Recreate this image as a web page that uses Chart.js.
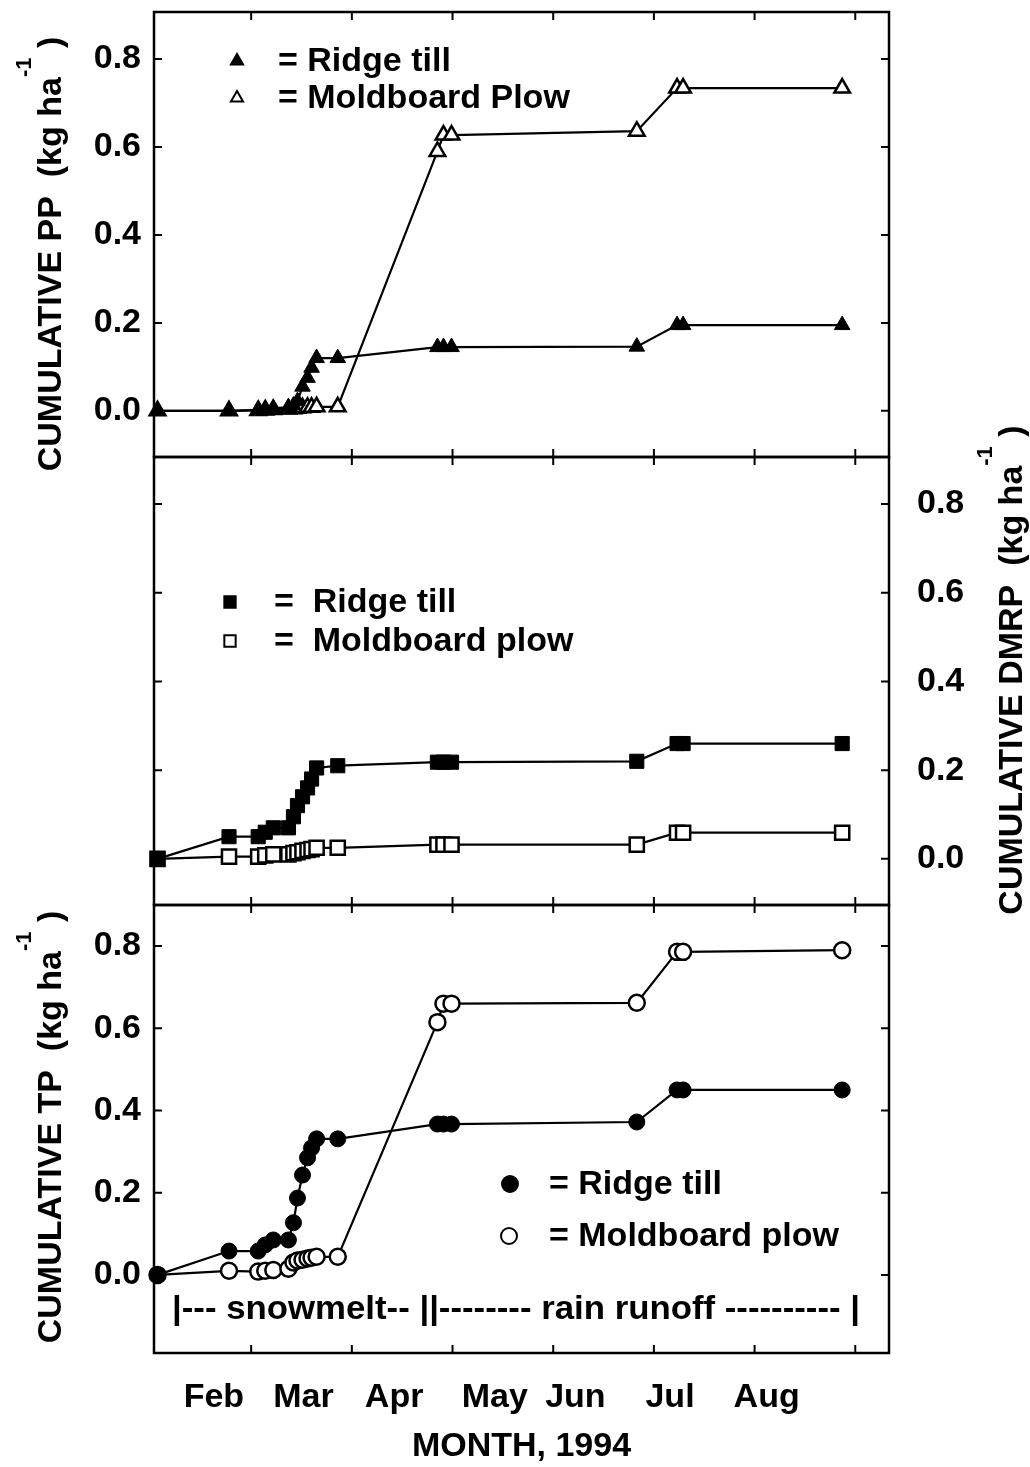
<!DOCTYPE html>
<html><head><meta charset="utf-8">
<script src="https://cdn.jsdelivr.net/npm/chart.js@4.4.1/dist/chart.umd.min.js"></script>
<style>
html,body{margin:0;padding:0;background:#fff;}
#wrap{position:relative;width:1030px;height:1467px;overflow:hidden;}
canvas{position:absolute;left:0;top:0;}
</style></head><body><div id="wrap">
<canvas id="c1" width="1030" height="1467"></canvas>
<canvas id="c2" width="1030" height="1467"></canvas>
<canvas id="c3" width="1030" height="1467"></canvas>
</div>
<script>
// ---- data (x in months of 1994, 2.0 = 1 Feb) ----
const sampleDates = [2.07, 2.78, 3.07, 3.14, 3.22, 3.37, 3.42, 3.46, 3.51, 3.56, 3.60, 3.65, 3.86, 4.85, 4.91, 4.99, 6.83, 7.23, 7.29, 8.87];
const ppRidge     = [0, 0, 0.002, 0.004, 0.006, 0.008, 0.012, 0.022, 0.055, 0.075, 0.098, 0.12, 0.12, 0.145, 0.145, 0.145, 0.146, 0.195, 0.195, 0.195];
const ppMoldboard = [0, 0, 0.001, 0.002, 0.003, 0.004, 0.005, 0.006, 0.007, 0.008, 0.008, 0.009, 0.009, 0.59, 0.627, 0.627, 0.636, 0.734, 0.734, 0.734];
const dmrpRidge     = [0, 0.05, 0.05, 0.06, 0.07, 0.07, 0.095, 0.12, 0.14, 0.16, 0.18, 0.205, 0.21, 0.218, 0.218, 0.218, 0.22, 0.26, 0.26, 0.26];
const dmrpMoldboard = [0, 0.005, 0.005, 0.008, 0.01, 0.01, 0.013, 0.015, 0.018, 0.02, 0.022, 0.025, 0.025, 0.032, 0.032, 0.032, 0.032, 0.059, 0.059, 0.059];
const tpRidge     = [0, 0.058, 0.058, 0.073, 0.085, 0.085, 0.127, 0.187, 0.243, 0.285, 0.309, 0.331, 0.331, 0.367, 0.367, 0.367, 0.372, 0.45, 0.45, 0.45];
const tpMoldboard = [0, 0.01, 0.008, 0.01, 0.012, 0.015, 0.03, 0.035, 0.037, 0.04, 0.042, 0.044, 0.044, 0.615, 0.66, 0.66, 0.662, 0.786, 0.786, 0.79];
const yTickValues = [0, 0.2, 0.4, 0.6, 0.8];
const monthTickValues = [3, 4, 5, 6, 7, 8, 9];
const monthLabels = ['Feb', 'Mar', 'Apr', 'May', 'Jun', 'Jul', 'Aug'];
const monthLabelPos = [2.63, 3.52, 4.42, 5.42, 6.22, 7.16, 8.12];
const seriesNames = ['Ridge till', 'Moldboard Plow', 'Moldboard plow'];
const phaseNote = '|--- snowmelt-- ||-------- rain runoff ---------- |';

// ---- styling ----
const FONT = '"Liberation Sans", Arial, Helvetica, sans-serif';
const FS = 34;
const X_MIN = 2.035, X_MAX = 9.335;

function pts(vals){ return sampleDates.map((d,i)=>({x:d, y:vals[i]})); }

function ds(label, vals, style, filled, radius){
  return {
    label, data: pts(vals),
    borderColor:'#000', borderWidth:2.2, tension:0,
    pointStyle: style, pointRadius: radius, pointHoverRadius: radius,
    pointBackgroundColor: filled ? '#000' : '#fff',
    pointBorderColor:'#000', pointBorderWidth: filled ? 1 : 2.5,
    clip: false
  };
}

function drawTitle(ctx, o){
  ctx.save();
  ctx.translate(o.cx, o.cy);
  ctx.rotate(-Math.PI/2);
  ctx.fillStyle = '#000';
  ctx.textBaseline = 'alphabetic';
  ctx.textAlign = 'left';
  const main = o.text + '  (kg ha';
  ctx.font = 'bold ' + FS + 'px ' + FONT;
  const w1 = ctx.measureText(main).width;
  const w3 = ctx.measureText(' )').width;
  ctx.font = 'bold 22px ' + FONT;
  const w2 = ctx.measureText('-1').width;
  const total = w1 + w2 + w3;
  let x = -total/2;
  const base = o.base;
  ctx.font = 'bold ' + FS + 'px ' + FONT;
  ctx.fillText(main, x, base); x += w1;
  ctx.font = 'bold 22px ' + FONT;
  ctx.fillText('-1', x, base - 30); x += w2;
  ctx.font = 'bold ' + FS + 'px ' + FONT;
  ctx.fillText(' )', x, base);
  ctx.restore();
}

const framePlugin = {
  id: 'frame',
  afterDatasetsDraw(chart, args, opts){
    const {ctx, chartArea:a, scales} = chart;
    const xs = scales.x, ys = scales.y;
    ctx.save();
    ctx.strokeStyle = '#000';
    ctx.lineWidth = 2.5;
    ctx.strokeRect(a.left, a.top, a.right - a.left, a.bottom - a.top);
    ctx.lineWidth = 2;
    const L = 8;
    ctx.beginPath();
    monthTickValues.forEach(v => {
      const px = xs.getPixelForValue(v);
      ctx.moveTo(px, a.top); ctx.lineTo(px, a.top + L);
      ctx.moveTo(px, a.bottom); ctx.lineTo(px, a.bottom - L);
    });
    yTickValues.forEach(v => {
      const py = ys.getPixelForValue(v);
      ctx.moveTo(a.left, py); ctx.lineTo(a.left + L, py);
      ctx.moveTo(a.right, py); ctx.lineTo(a.right - L, py);
    });
    ctx.stroke();
    if (opts.legend) {
      opts.legend.forEach((item, i) => {
        const d = chart.data.datasets[i];
        ctx.save();
        ctx.fillStyle = d.pointBackgroundColor;
        ctx.strokeStyle = '#000';
        ctx.lineWidth = 2;
        Chart.helpers.drawPoint(ctx, {pointStyle: d.pointStyle, radius: item.r, rotation: 0, borderWidth: 2}, item.mx, item.y);
        ctx.restore();
        ctx.fillStyle = '#000';
        ctx.font = 'bold ' + FS + 'px ' + FONT;
        ctx.textBaseline = 'middle';
        ctx.textAlign = 'left';
        ctx.fillText(item.eq + item.text, item.tx, item.y + 1);
      });
    }
    if (opts.title) drawTitle(ctx, opts.title);
    if (opts.note) {
      ctx.font = 'bold ' + FS + 'px ' + FONT;
      const w = ctx.measureText(opts.note.text).width;
      const sx = (opts.note.x2 - opts.note.x1) / w;
      ctx.save();
      ctx.translate(opts.note.x1, opts.note.y);
      ctx.scale(sx, 1);
      ctx.fillStyle = '#000';
      ctx.textBaseline = 'middle';
      ctx.textAlign = 'left';
      ctx.fillText(opts.note.text, 0, 0);
      ctx.restore();
    }
    ctx.restore();
  }
};

function noPad(s){ s.paddingTop = 0; s.paddingBottom = 0; s.paddingLeft = 0; s.paddingRight = 0; }

function yScale(pos, min, max, width, pad){
  return {
    type:'linear', position: pos, min, max,
    afterBuildTicks: s => { s.ticks = yTickValues.map(v => ({value:v})); },
    afterFit: s => { s.width = width; noPad(s); },
    ticks: { display: true, padding: pad, color:'#000',
             font:{family:FONT, size:FS, weight:'bold'},
             callback: v => Number(v).toFixed(1) },
    grid: { display:false, drawTicks:false },
    border: { display:false }
  };
}
function xHidden(){
  return { type:'linear', min:X_MIN, max:X_MAX, display:false };
}

const common = {
  responsive:false, animation:false, devicePixelRatio:1,
  events: []
};

// ---- Panel 1: PP ----
new Chart(document.getElementById('c1'), {
  type:'line',
  data:{ datasets:[ ds(seriesNames[0], ppRidge, 'triangle', true, 9),
                    ds(seriesNames[1], ppMoldboard, 'triangle', false, 9) ] },
  options: Object.assign({}, common, {
    layout:{ padding:{ left:0, right:141, top:12, bottom:1467-457 } },
    scales:{ x: xHidden(), y: yScale('left', -0.105, 0.907, 154, 13) },
    plugins:{ legend:{display:false}, tooltip:{enabled:false},
      frame:{
        legend:[ {mx:237, y:61, r:7, tx:278, eq:'= ', text:seriesNames[0]},
                 {mx:237, y:98, r:7, tx:278, eq:'= ', text:seriesNames[1]} ],
        title:{ cx:61, cy:254, base:0, text:'CUMULATIVE PP' }
      } }
  }),
  plugins:[framePlugin]
});

// ---- Panel 2: DMRP ----
new Chart(document.getElementById('c2'), {
  type:'line',
  data:{ datasets:[ ds(seriesNames[0], dmrpRidge, 'rect', true, 10),
                    ds(seriesNames[2], dmrpMoldboard, 'rect', false, 10) ] },
  options: Object.assign({}, common, {
    layout:{ padding:{ left:154, right:0, top:457, bottom:1467-905 } },
    scales:{ x: xHidden(), y: yScale('right', -0.104, 0.906, 141, 28) },
    plugins:{ legend:{display:false}, tooltip:{enabled:false},
      frame:{
        legend:[ {mx:230, y:602, r:8, tx:274, eq:'=  ', text:seriesNames[0]},
                 {mx:230, y:641, r:8, tx:274, eq:'=  ', text:seriesNames[2]} ],
        title:{ cx:1022, cy:670, base:0, text:'CUMULATIVE DMRP' }
      } }
  }),
  plugins:[framePlugin]
});

// ---- Panel 3: TP ----
new Chart(document.getElementById('c3'), {
  type:'line',
  data:{ datasets:[ ds(seriesNames[0], tpRidge, 'circle', true, 8),
                    ds(seriesNames[2], tpMoldboard, 'circle', false, 8) ] },
  options: Object.assign({}, common, {
    layout:{ padding:{ left:0, right:141, top:905, bottom:0 } },
    scales:{
      x:{ type:'linear', position:'bottom', min:X_MIN, max:X_MAX,
          afterBuildTicks: s => { s.ticks = monthLabelPos.map(v => ({value:v})); },
          afterFit: s => { s.height = 114; noPad(s); },
          ticks:{ autoSkip:false, maxRotation:0, padding:24, color:'#000',
                  font:{family:FONT, size:FS, weight:'bold'},
                  callback: (v, i) => monthLabels[i] },
          grid:{ display:false, drawTicks:false },
          border:{ display:false },
          title:{ display:true, text:'MONTH, 1994', color:'#000', padding:{top:0, bottom:0},
                  font:{family:FONT, size:FS, weight:'bold'} } },
      y: yScale('left', -0.19, 0.90, 154, 13)
    },
    plugins:{ legend:{display:false}, tooltip:{enabled:false},
      frame:{
        legend:[ {mx:510, y:1184, r:8, tx:549, eq:'= ', text:seriesNames[0]},
                 {mx:509, y:1236, r:8, tx:549, eq:'= ', text:seriesNames[2]} ],
        title:{ cx:61, cy:1127, base:0, text:'CUMULATIVE TP' },
        note:{ text: phaseNote, x1:172, x2:860, y:1310 }
      } }
  }),
  plugins:[framePlugin]
});
</script>
</body></html>
